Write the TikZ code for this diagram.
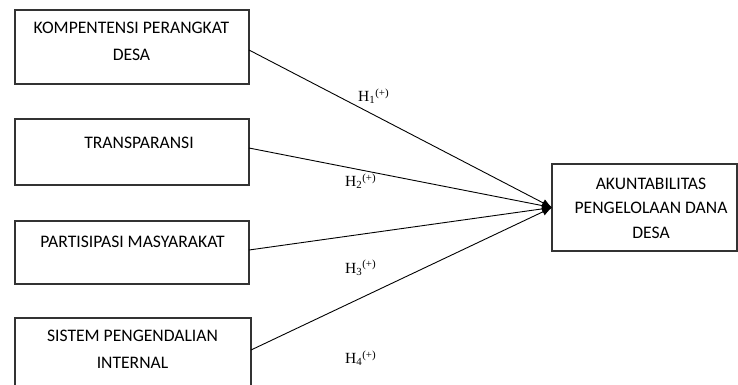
\documentclass[tikz,border=0pt]{standalone}
\usepackage{fontspec}
\setmainfont{Carlito}
\newfontfamily\hfont{Liberation Serif}
\usetikzlibrary{arrows.meta}
\begin{document}
\begin{tikzpicture}[x=1pt,y=-1pt,
  box/.style={draw=black!80,line width=1.1pt,inner sep=0pt,outer sep=0pt},
  txt/.style={align=center,inner sep=0pt,font=\fontsize{17.6}{26.5}\selectfont},
  hyp/.style={anchor=west,inner sep=0pt,font=\hfont\fontsize{15.5}{16}\selectfont},
  conn/.style={line width=0.9pt,-{Latex[length=10pt,width=8pt]}}]
\useasboundingbox (0,0) rectangle (738,384);
\clip (0,0) rectangle (738,384);
\node[box,minimum width=234pt,minimum height=74pt] (b1) at (132,47) {};
\node[box,minimum width=234pt,minimum height=66pt] (b2) at (132,152) {};
\node[box,minimum width=234pt,minimum height=63pt] (b3) at (132,252.5) {};
\node[box,minimum width=236pt,minimum height=70pt] (b4) at (133,353) {};
\node[box,minimum width=185pt,minimum height=87pt] (t) at (644.5,207.5) {};
\node[txt] (l1) at (131.5,41.5) {KOMPENTENSI PERANGKAT\\DESA};
\node[txt] (l2) at (139,143) {TRANSPARANSI};
\node[txt] (l3) at (132.5,242) {PARTISIPASI MASYARAKAT};
\node[txt] (l4) at (132.5,349.5) {SISTEM PENGENDALIAN\\INTERNAL};
\node[txt,font=\fontsize{17.6}{24.5}\selectfont] (lt) at (651,208) {AKUNTABILITAS\\PENGELOLAAN DANA\\DESA};
\coordinate (e1) at (249,50);
\coordinate (e2) at (249,148);
\coordinate (e3) at (249,250);
\coordinate (e4) at (251,350);
\draw[conn] (e1) -- (t.west);
\draw[conn] (e2) -- (t.west);
\draw[conn] (e3) -- (t.west);
\draw[conn] (e4) -- (t.west);
\node[hyp] (h1) at (358,96) {H\textsubscript{1}\textsuperscript{(+)}};
\node[hyp] (h2) at (345,181) {H\textsubscript{2}\textsuperscript{(+)}};
\node[hyp] (h3) at (345,268) {H\textsubscript{3}\textsuperscript{(+)}};
\node[hyp] (h4) at (345,358) {H\textsubscript{4}\textsuperscript{(+)}};
\end{tikzpicture}
\end{document}
